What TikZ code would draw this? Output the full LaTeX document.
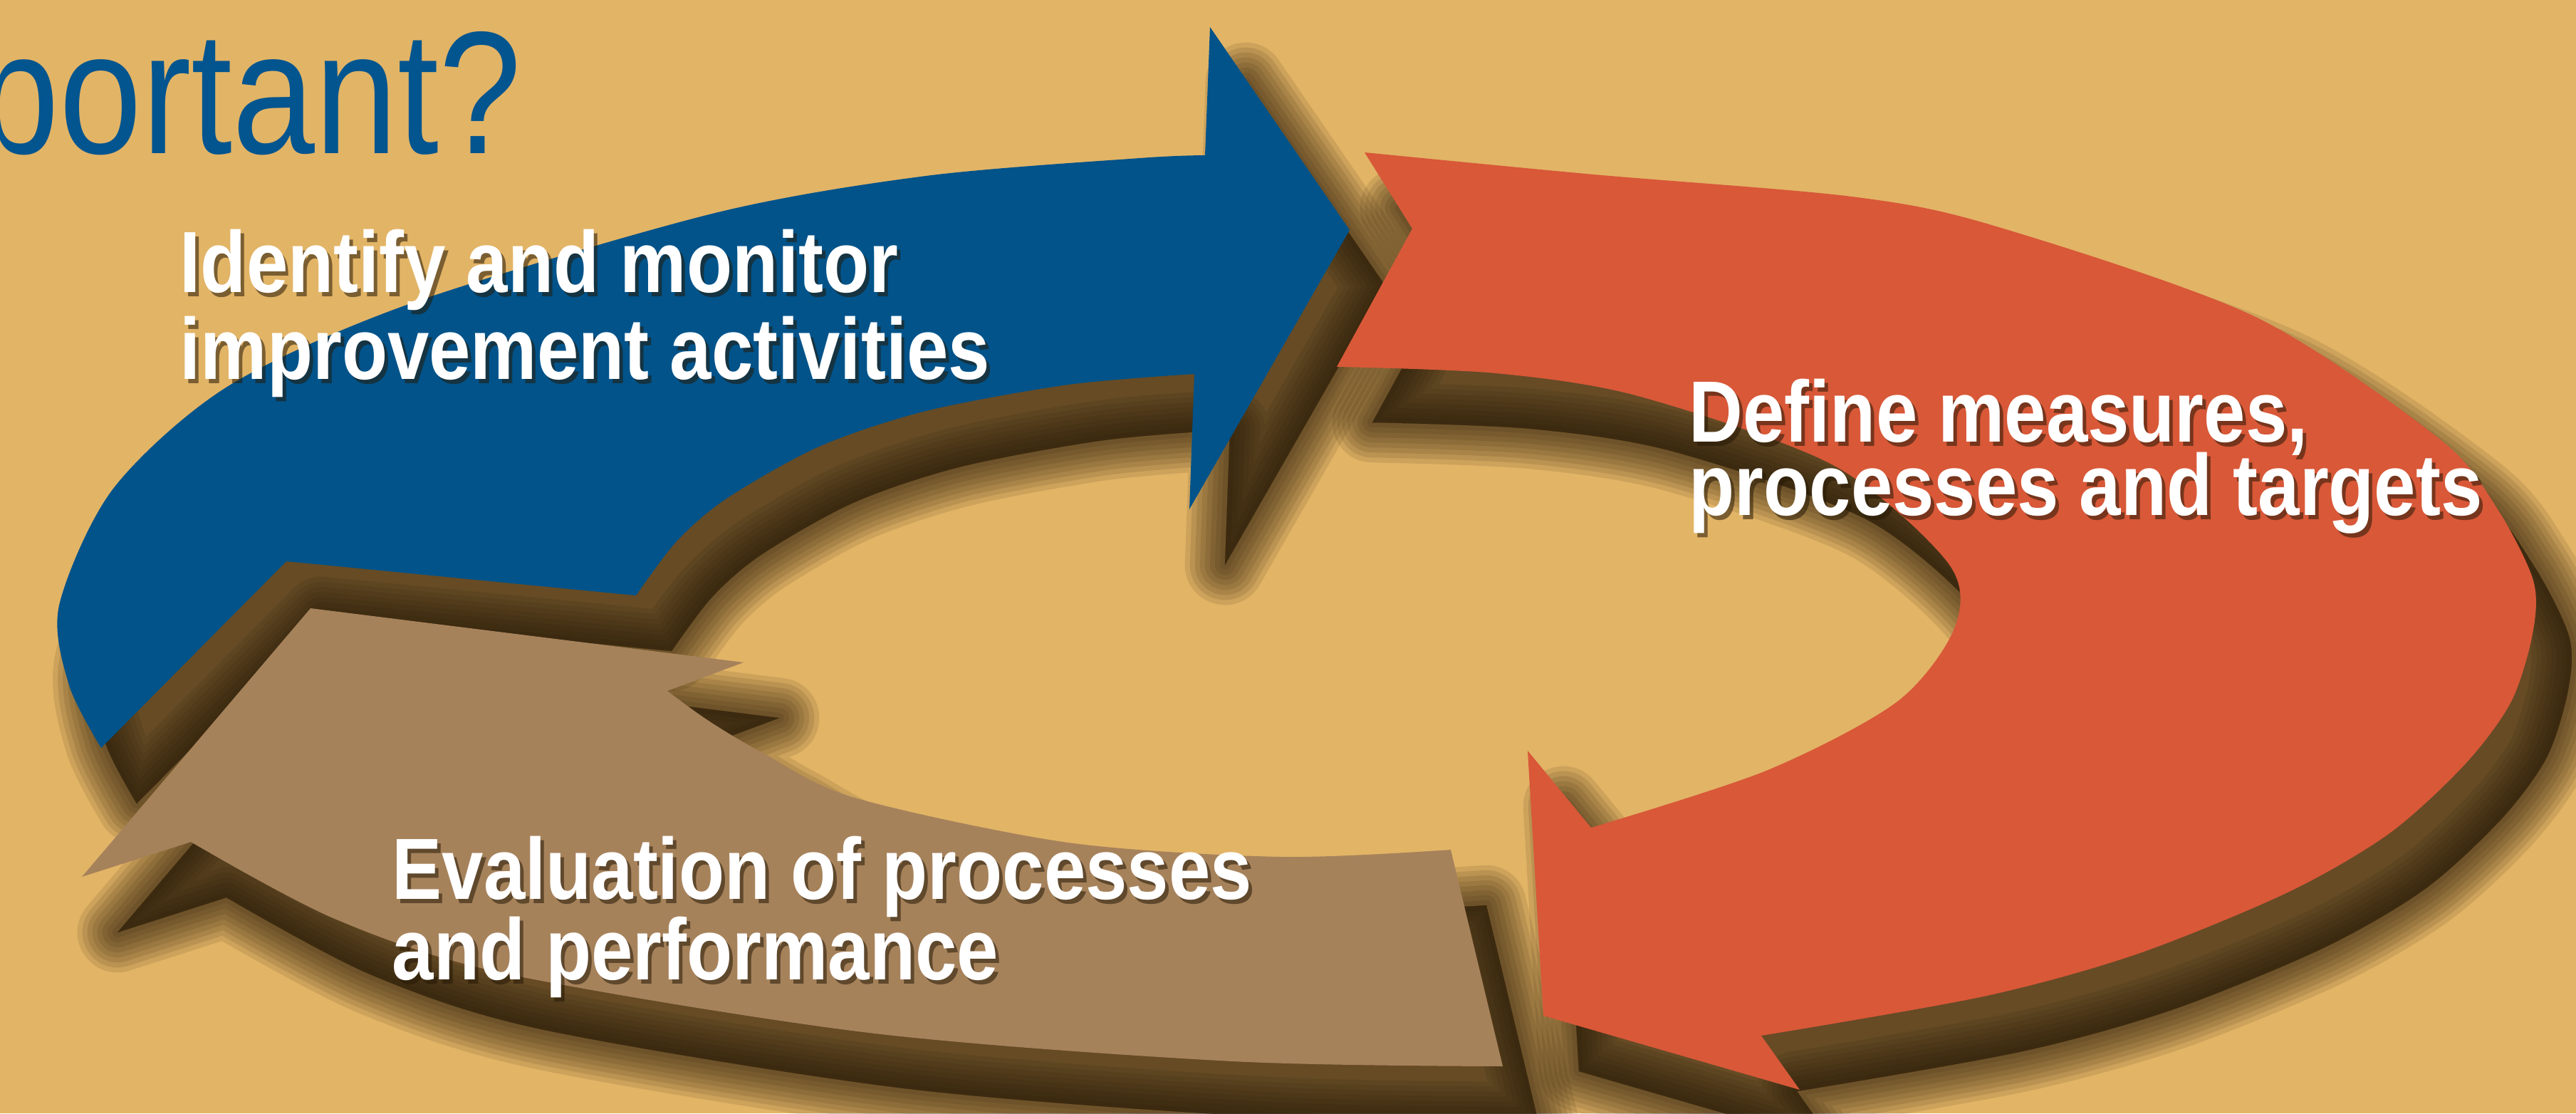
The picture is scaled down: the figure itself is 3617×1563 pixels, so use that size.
\documentclass[tikz,border=0pt]{standalone}
\usepackage{fontspec}
\newfontfamily\labelfont[FakeStretch=0.86]{Liberation Sans}
\newfontfamily\titlefont[FakeStretch=0.85]{Liberation Sans}
\usetikzlibrary{calc}

\definecolor{sand}{RGB}{226,180,102}
\definecolor{shadowcol}{RGB}{38,25,6}
\definecolor{cycleblue}{RGB}{1,83,138}
\definecolor{cycleorange}{RGB}{216,88,56}
\definecolor{cyclebrown}{RGB}{166,130,91}
\definecolor{titleblue}{RGB}{3,85,143}

\newcommand{\bluearrow}[1]{\path[#1] (142,1050) -- (402,788)
  -- plot[smooth] coordinates {(893,836) (950,760) (1020,700) (1150,627) (1300,577) (1500,540) (1677,525)}
  -- (1670,715) -- (1895,323) -- (1699,38)
  -- plot[smooth] coordinates {(1692,218) (1600,222) (1300,247) (1000,300) (574,427) (319,543) (159,686) (83,850) (97,962) (142,1050)}
  -- cycle;}
\newcommand{\orangearrow}[1]{\path[#1] (1916,214) -- (1983,321) -- (1877,515)
  -- plot[smooth] coordinates {(1877,515) (2100,524) (2300,556) (2574,653) (2735,790) (2745,880) (2664,985) (2480,1082) (2234,1162)}
  -- (2145,1054) -- (2167,1426) -- (2527,1530)
  -- plot[smooth] coordinates {(2473,1454) (2785,1399) (2999,1340) (3212,1253) (3355,1170) (3462,1072) (3526,985) (3556,890) (3557,815) (3505,712) (3425,616) (3165,444) (2800,317) (2600,276) (2238,245) (1916,214)}
  -- cycle;}
\newcommand{\brownarrow}[1]{\path[#1] (2037,1193) -- (2110,1497)
  -- plot[smooth] coordinates {(2110,1497) (1730,1490) (1220,1450) (710,1367) (470,1290) (268,1182)}
  -- (115,1231) -- (436,854) -- (1044,930)
  -- plot[smooth] coordinates {(937,970) (995,1012) (1071,1057) (1200,1120) (1500,1183) (1800,1203) (2037,1193)}
  -- cycle;}

\begin{document}
\begin{tikzpicture}[x=0.01cm,y=-0.01cm]
\tikzstyle{shadowlayer}=[fill=shadowcol,draw=shadowcol,line width=#1,line join=round,opacity=0.11]
\tikzstyle{steptext}=[text=white,inner sep=0pt,anchor=base west,font=\labelfont\bfseries\fontsize{34.7}{40}\selectfont]
\tikzstyle{steptextshadow}=[steptext,text=shadowcol,opacity=0.55]
\tikzstyle{titletext}=[text=titleblue,inner sep=0pt,anchor=base east,font=\titlefont\fontsize{69.7}{80}\selectfont]

\useasboundingbox (0,0) rectangle (3617,1563);
\clip (0,0) rectangle (3617,1563);
\fill[sand] (0,0) rectangle (3617,1563);

\node[titletext] (title) at (733,215) {portant?};

% soft shadows under the three arrows
\begin{scope}[shift={(50,78)}]
  \foreach \w in {32,28,24,20,16,12,8,4,0}
    { \bluearrow{shadowlayer=\w pt} \orangearrow{shadowlayer=\w pt} \brownarrow{shadowlayer=\w pt} }
\end{scope}

\bluearrow{fill=cycleblue}
\orangearrow{fill=cycleorange}
\brownarrow{fill=cyclebrown}

  \foreach \name/\x/\y/\text in {ident-1/252/410/{Identify and monitor}, ident-2/252/532/{improvement activities},
      define-1/2371/620/{Define measures,}, define-2/2371/723/{processes and targets},
      eval-1/550/1262/{Evaluation of processes}, eval-2/550/1375/{and performance}}
    { \node[steptextshadow] (\name-sh) at (\x+5,\y+6) {\text};
      \node[steptext] (\name) at (\x,\y) {\text}; }

\end{tikzpicture}
\end{document}
